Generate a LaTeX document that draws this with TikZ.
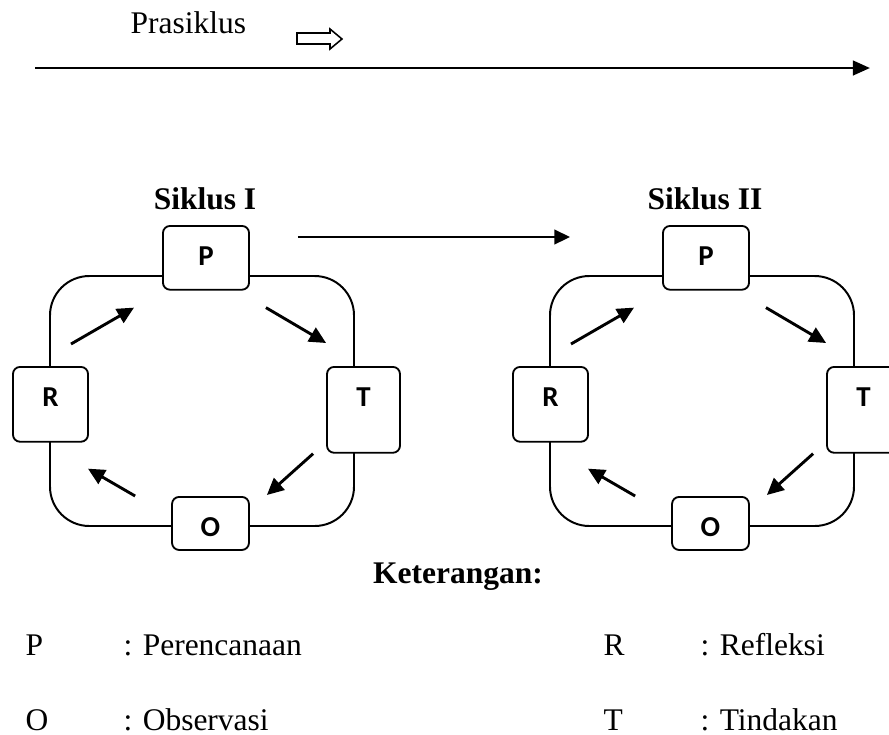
\documentclass[tikz,border=0pt]{standalone}
\usepackage{fontspec}
\setmainfont{Liberation Serif}
\newfontfamily\boxfont{Carlito}
\usetikzlibrary{arrows.meta}

\tikzset{
  stage/.style={draw, fill=white, line width=0.7pt, rounded corners=2.7pt, inner sep=0pt,
    text height=15.2pt, anchor=north, font=\boxfont\bfseries\fontsize{11}{13}\selectfont},
  cyc/.style={line width=1.1pt, -{Triangle[length=6.4pt,width=6pt]}},
  txt/.style={inner sep=0pt, anchor=base west, font=\fontsize{12}{14}\selectfont},
  judul/.style={inner sep=0pt, anchor=base, font=\fontsize{12}{14}\selectfont\bfseries},
}

\begin{document}
\begin{tikzpicture}[x=0.381pt, y=-0.381pt]

        \useasboundingbox (0,0) rectangle (889,734);

        % Prasiklus
        \coordinate (start) at (35,68);
        \coordinate (end) at (870,68);
        \draw[line width=1.1pt, -{Triangle[length=6.5pt,width=5.5pt]}] (start) -- (end);
        \node[txt] (pra) at (130,33) {Prasiklus};
        \draw[line width=0.6pt] (297,33) -- (330,33) -- (330,29) -- (342,39)
            -- (330,49) -- (330,44) -- (297,44) -- cycle;

        % Siklus I and Siklus II
        \foreach \dx/\i/\nama in {0/1/I, 500/2/II} {
          \begin{scope}[shift={(\dx,0)}]
            \draw[line width=0.75pt, rounded corners=15pt] (50,276) rectangle (354,526);
            \node[stage, minimum width=32.8pt, text depth=9.1pt] (P\i) at (206,225) {P};
            \node[stage, minimum width=28.6pt, text depth=13.3pt] (R\i) at (50.5,366) {R};
            \node[stage, minimum width=27.8pt, text depth=17.5pt] (T\i) at (363.5,366) {T};
            \node[stage, minimum width=29.3pt, text depth=5pt] (O\i) at (210.5,496) {O};
            \node[judul] (siklus\i) at (205,209) {Siklus \nama};

            \draw[cyc] ([shift={(20.5,-22)}]R\i.north) -- ([shift={(-28,17)}]P\i.south west);
            \draw[cyc] ([shift={(16,17)}]P\i.south east) -- ([shift={(0,-23)}]T\i.north west);
            \draw[cyc] ([shift={(-13,0)}]T\i.south west) -- ([shift={(17,-1)}]O\i.north east);
            \draw[cyc] ([shift={(-36,0)}]O\i.north west) -- ([shift={(-1,26)}]R\i.south east);
          \end{scope}
        }

        % Siklus I to Siklus II
        \draw[line width=0.8pt, -{Triangle[length=6pt,width=5.6pt]}]
            ([shift={(48,12)}]P1.north east) -- ([shift={(-92,12)}]P2.north west);

        % Keterangan
        \node[judul] (ket) at (458,583) {Keterangan:};
        \node[txt] (kp) at (25,655) {P};
        \node[txt] (kpt) at (123,655) {: Perencanaan};
        \node[txt] (ko) at (25,730) {O};
        \node[txt] (kot) at (123,730) {: Observasi};
        \node[txt] (kr) at (603,655) {R};
        \node[txt] (krt) at (700,655) {: Refleksi};
        \node[txt] (kt) at (603,730) {T};
        \node[txt] (ktt) at (700,730) {: Tindakan};

    \end{tikzpicture}
\end{document}
